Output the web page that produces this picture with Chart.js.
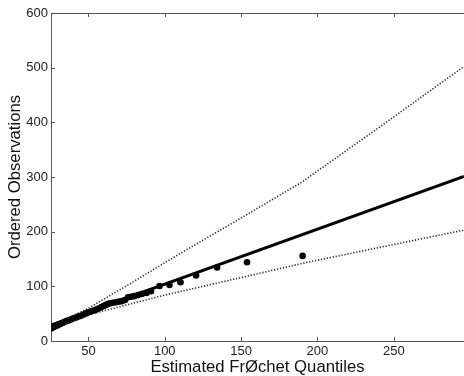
<!DOCTYPE html>
<html>
<head>
<meta charset="utf-8">
<script src="https://cdn.jsdelivr.net/npm/chart.js@4/dist/chart.umd.min.js"></script>
<style>
  body { margin: 0; background: #fff; }
</style>
</head>
<body>
<canvas id="qqPlot" width="464" height="376"></canvas>
<script>
// estimated Frechet quantiles vs ordered observations
const quantiles = [25.5, 27, 28.5, 30, 31.5, 33, 34.5, 36, 37.5, 39, 40.5, 42, 43.5, 45, 46.5, 48, 49.5, 51, 52.5, 54,
  55.5, 57, 58.5, 60, 61.5, 63, 64.5, 66, 68, 70, 72, 74, 76, 78, 80, 82.5, 85, 88, 91,
  96.6, 103.1, 110.3, 120.5, 134.3, 153.9, 190.3];
const observations = [23, 25, 27, 29, 31, 33, 35, 37, 38, 40, 42, 43, 45, 46, 48, 50, 52, 53, 55, 56,
  58, 60, 62, 64, 66, 68, 69, 70, 71, 72, 73, 75, 80, 81, 82, 84, 86, 88, 91,
  100.7, 102.6, 107.5, 120, 134.4, 144, 155.7];

// fitted line
const fitX = [25.5, 296];
const fitY = [29, 301];

// confidence bounds
const upperX = [25.5, 50, 75, 110, 150, 190, 240, 296];
const upperY = [26, 60, 101, 160, 225, 291, 390, 502];
const lowerX = [25.5, 54, 100, 150, 190, 296];
const lowerY = [22, 51, 84, 116, 142, 203];

const xTicks = [50, 100, 150, 200, 250];
const yTicks = [0, 100, 200, 300, 400, 500, 600];

const toPoints = (xs, ys) => xs.map((x, i) => ({ x: x, y: ys[i] }));

const axisColor = "#555";

// MATLAB style box: top border and inward tick marks
const boxPlugin = {
  id: "box",
  afterDraw(chart) {
    const { ctx, chartArea } = chart;
    const xs = chart.scales.x;
    const ys = chart.scales.y;
    ctx.save();
    ctx.strokeStyle = axisColor;
    ctx.lineWidth = 1;
    ctx.beginPath();
    ctx.moveTo(chartArea.left, chartArea.top + 0.5);
    ctx.lineTo(chartArea.right, chartArea.top + 0.5);
    xTicks.forEach((v) => {
      const px = Math.round(xs.getPixelForValue(v)) + 0.5;
      ctx.moveTo(px, chartArea.bottom);
      ctx.lineTo(px, chartArea.bottom - 4);
      ctx.moveTo(px, chartArea.top);
      ctx.lineTo(px, chartArea.top + 4);
    });
    yTicks.forEach((v) => {
      const py = Math.round(ys.getPixelForValue(v)) + 0.5;
      ctx.moveTo(chartArea.left, py);
      ctx.lineTo(chartArea.left + 4, py);
    });
    ctx.stroke();
    ctx.restore();
  }
};

new Chart(document.getElementById("qqPlot").getContext("2d"), {
  type: "scatter",
  data: {
    datasets: [
      {
        label: "Upper bound",
        data: toPoints(upperX, upperY),
        showLine: true,
        borderColor: "#222",
        borderWidth: 1.6,
        borderDash: [1.2, 1.8],
        pointRadius: 0,
        fill: false
      },
      {
        label: "Lower bound",
        data: toPoints(lowerX, lowerY),
        showLine: true,
        borderColor: "#222",
        borderWidth: 1.6,
        borderDash: [1.2, 1.8],
        pointRadius: 0,
        fill: false
      },
      {
        label: "Fit",
        data: toPoints(fitX, fitY),
        showLine: true,
        borderColor: "#000",
        borderWidth: 3,
        pointRadius: 0,
        fill: false
      },
      {
        label: "Observations",
        data: toPoints(quantiles, observations),
        showLine: false,
        pointRadius: 3.3,
        pointBackgroundColor: "#000",
        pointBorderColor: "#000",
        pointBorderWidth: 0
      }
    ]
  },
  options: {
    responsive: false,
    animation: false,
    layout: { autoPadding: false, padding: { top: 13, right: 0, bottom: 0, left: 0 } },
    plugins: {
      legend: { display: false },
      tooltip: { enabled: false }
    },
    scales: {
      x: {
        type: "linear",
        min: 25.5,
        max: 296,
        afterBuildTicks: (scale) => { scale.ticks = xTicks.map((v) => ({ value: v })); },
        afterFit: (scale) => { scale.height = 35; },
        grid: { display: false, drawTicks: false },
        border: { display: true, color: axisColor, width: 1 },
        ticks: { color: "#222", padding: 3, font: { family: "Liberation Sans", size: 13 } },
        title: {
          display: true,
          text: "Estimated FrØchet Quantiles",
          color: "#111",
          padding: { top: 0, bottom: -1 },
          font: { family: "Liberation Sans", size: 16.7 }
        }
      },
      y: {
        min: 0,
        max: 600,
        afterBuildTicks: (scale) => { scale.ticks = yTicks.map((v) => ({ value: v })); },
        afterFit: (scale) => { scale.width = 51; },
        grid: { display: false, drawTicks: false },
        border: { display: true, color: axisColor, width: 1 },
        ticks: { color: "#222", padding: 3, font: { family: "Liberation Sans", size: 13 } },
        title: {
          display: true,
          text: "Ordered Observations",
          color: "#111",
          padding: { top: 5, bottom: 0 },
          font: { family: "Liberation Sans", size: 16.7 }
        }
      }
    }
  },
  plugins: [boxPlugin]
});
</script>
</body>
</html>
